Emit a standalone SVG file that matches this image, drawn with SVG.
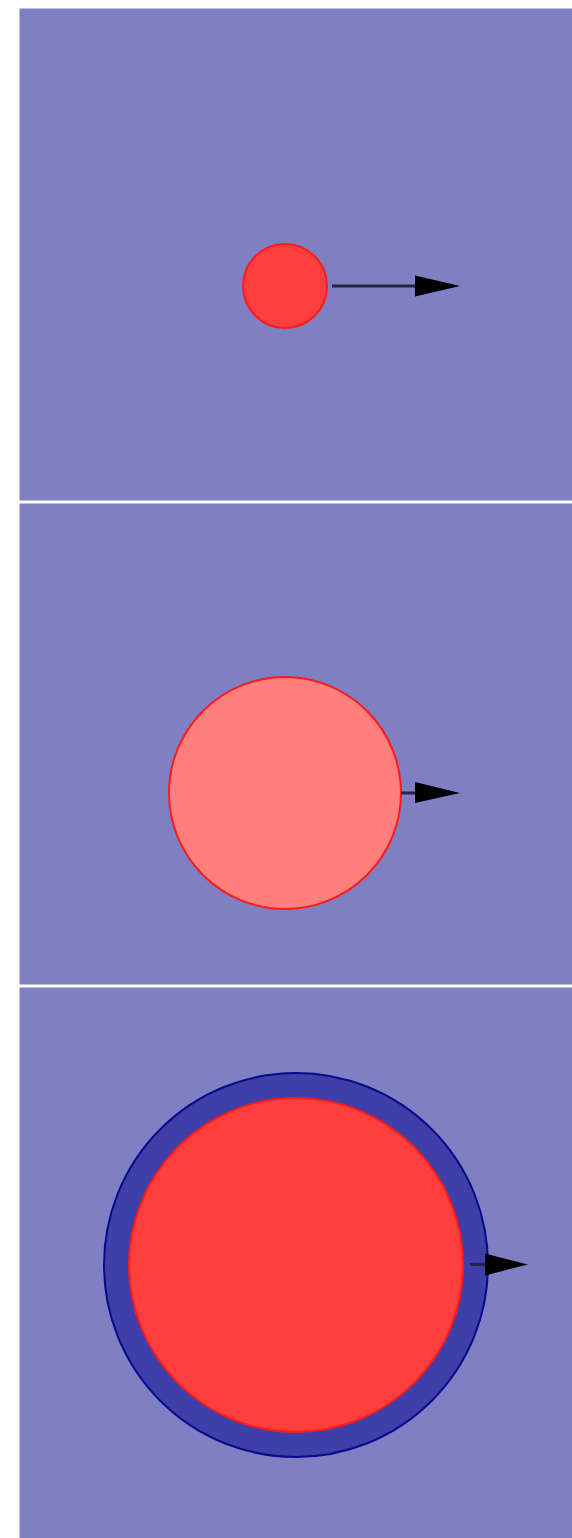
<svg xmlns="http://www.w3.org/2000/svg" width="572" height="1538" viewBox="0 0 572 1538">
<style>
.panel{fill:#7f7fc4}
.line{stroke:#2a2440;stroke-width:3;fill:none}
.head{fill:#000}
</style>
<rect x="0" y="0" width="572" height="1538" fill="#fff"/>
<g id="panel1">
<rect class="panel" x="19.5" y="8.5" width="552.5" height="492"/>
</g>
<g id="panel2">
<rect class="panel" x="19.5" y="503.5" width="552.5" height="481"/>
</g>
<g id="panel3">
<rect class="panel" x="19.5" y="987.5" width="552.5" height="550.5"/>
</g>
<g id="node1">
<circle cx="285" cy="286" r="42" fill="#ff3e3e" stroke="#ff1a1a" stroke-width="2"/>
</g>
<g id="node2">
<circle cx="285" cy="793" r="116" fill="#ff7f7f" stroke="#ff1a1a" stroke-width="2"/>
</g>
<g id="node3">
<circle cx="296" cy="1265" r="192" fill="#3f3fa9" stroke="#0a0a8a" stroke-width="2"/>
<circle cx="296" cy="1265" r="167" fill="#ff3e3e" stroke="#ff1a1a" stroke-width="2"/>
</g>
<g id="connectors">
<line class="line" x1="332" y1="286" x2="418" y2="286"/>
<polygon class="head" points="415,275.5 460,286 415,296.5"/>
<line class="line" x1="401" y1="793" x2="418" y2="793"/>
<polygon class="head" points="415,782 460,793 415,803"/>
<line class="line" x1="470" y1="1264.5" x2="488" y2="1264.5"/>
<polygon class="head" points="485,1253.5 528,1264.5 485,1275.5"/>
</g>
</svg>
